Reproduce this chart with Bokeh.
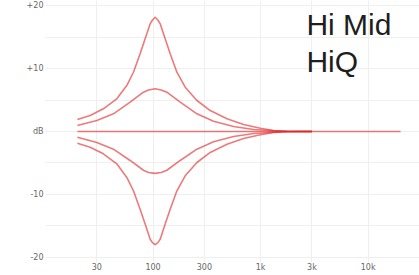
from bokeh.plotting import figure
from bokeh.models import FixedTicker, Label, Range1d
from bokeh.embed import file_html
from bokeh.resources import INLINE

# ---- data ----
boost18_freq = [19.8, 26, 34.5, 46, 57, 65.7, 75.8, 84.4, 94, 98.7, 104.6, 110.8, 116.5, 129.6,
                144.3, 166.6, 199, 255.7, 340, 487, 694, 994, 1321, 1761, 2347, 3000]
boost18_gain = [1.90, 2.54, 3.60, 5.19, 7.30, 9.41, 12.33, 14.71, 17.10, 17.7, 18.14, 17.7, 17.10, 14.71,
                12.33, 9.41, 7.03, 4.92, 3.33, 2.02, 1.11, 0.52, 0.16, 0.05, 0.0, 0.0]

boost7_freq = [19.8, 30, 42.8, 61.2, 81.4, 90.6, 104.6, 118.9, 134.4, 178.8, 255.7, 365, 560, 861, 1321, 1890, 3000]
boost7_gain = [0.95, 1.75, 2.81, 4.65, 6.24, 6.6, 6.78, 6.6, 6.24, 4.65, 2.81, 1.63, 0.79, 0.32, 0.11, 0.0, 0.0]

flat_freq = [19.8, 20000]
flat_gain = [0.0, 0.0]

cut7_freq = [19.8, 30, 42.8, 61.2, 81.4, 90.6, 104.6, 118.9, 134.4, 178.8, 255.7, 365, 560, 861, 1321, 1890, 3000]
cut7_gain = [-0.9, -1.75, -2.81, -4.6, -6.15, -6.5, -6.65, -6.5, -6.15, -4.6, -2.81, -1.63, -0.79, -0.32, -0.11, 0.0, 0.0]

cut18_freq = [19.8, 26, 34.5, 46, 57, 65.7, 75.8, 84.4, 94, 98.7, 104.6, 110.8, 116.5, 129.6,
              144.3, 166.6, 199, 255.7, 340, 487, 694, 994, 1321, 1761, 2347, 3000]
cut18_gain = [-1.86, -2.49, -3.54, -5.13, -7.30, -9.41, -12.33, -14.7, -17.1, -17.65, -17.98, -17.65, -17.1, -14.7,
              -12.33, -9.41, -7.03, -4.92, -3.33, -2.02, -1.11, -0.52, -0.16, -0.05, 0.0, 0.0]

x_ticks = [30, 100, 300, 1000, 3000, 10000]
x_tick_labels = ["30", "100", "300", "1k", "3k", "10k"]
y_ticks = [-20, -10, 0, 10, 20]
y_tick_labels = ["-20", "-10", "dB", "+10", "+20"]
title_lines = ["Hi Mid", "HiQ"]

# ---- layout ----
W, H = 419, 275
x_lo, x_hi = 10, 30000
y_lo, y_hi = -20.8, 20.8

p = figure(width=W, height=H, x_axis_type="log", output_backend="svg",
           toolbar_location=None, x_range=Range1d(x_lo, x_hi),
           y_range=Range1d(y_lo, y_hi),
           min_border_left=45, min_border_right=0, min_border_top=0,
           min_border_bottom=13)
p.outline_line_color = None
p.background_fill_color = "white"
p.border_fill_color = "white"

red = "#e02828"
for fx, gy in [(boost18_freq, boost18_gain), (boost7_freq, boost7_gain),
               (flat_freq, flat_gain), (cut7_freq, cut7_gain),
               (cut18_freq, cut18_gain)]:
    p.line(fx, gy, line_color=red, line_alpha=0.62, line_width=1.6,
           line_join="round")

# axes
for ax in (p.xaxis[0], p.yaxis[0]):
    ax.axis_line_color = None
    ax.major_tick_line_color = None
    ax.minor_tick_line_color = None
    ax.major_tick_out = 0
    ax.major_label_text_font = "DejaVu Sans"
    ax.major_label_text_font_size = "8px"
    ax.major_label_text_color = "#666666"
p.yaxis.major_label_standoff = 2
p.xaxis.major_label_standoff = 0

p.xaxis.ticker = FixedTicker(ticks=x_ticks)
p.xaxis.major_label_overrides = {t: s for t, s in zip(x_ticks, x_tick_labels)}
p.yaxis.ticker = FixedTicker(ticks=y_ticks)
p.yaxis.major_label_overrides = {t: s for t, s in zip(y_ticks, y_tick_labels)}

p.xgrid.ticker = FixedTicker(ticks=[10, 30, 100, 300, 1000, 3000, 10000, 30000])
p.ygrid.ticker = FixedTicker(ticks=[-20, -15, -10, -5, 0, 5, 10, 15, 20])
p.xgrid.grid_line_color = "#efefef"
p.ygrid.grid_line_color = "#efefef"

# title text
p.add_layout(Label(x=2665, y=17.0, text=title_lines[0], text_align="left", text_baseline="alphabetic",
                   text_font="Liberation Sans", text_font_size="30px", text_color="#1e1e1e"))
p.add_layout(Label(x=2665, y=11.1, text=title_lines[1], text_align="left", text_baseline="alphabetic",
                   text_font="Liberation Sans", text_font_size="30px", text_color="#1e1e1e"))

open("out.html", "w").write(file_html(p, INLINE))
